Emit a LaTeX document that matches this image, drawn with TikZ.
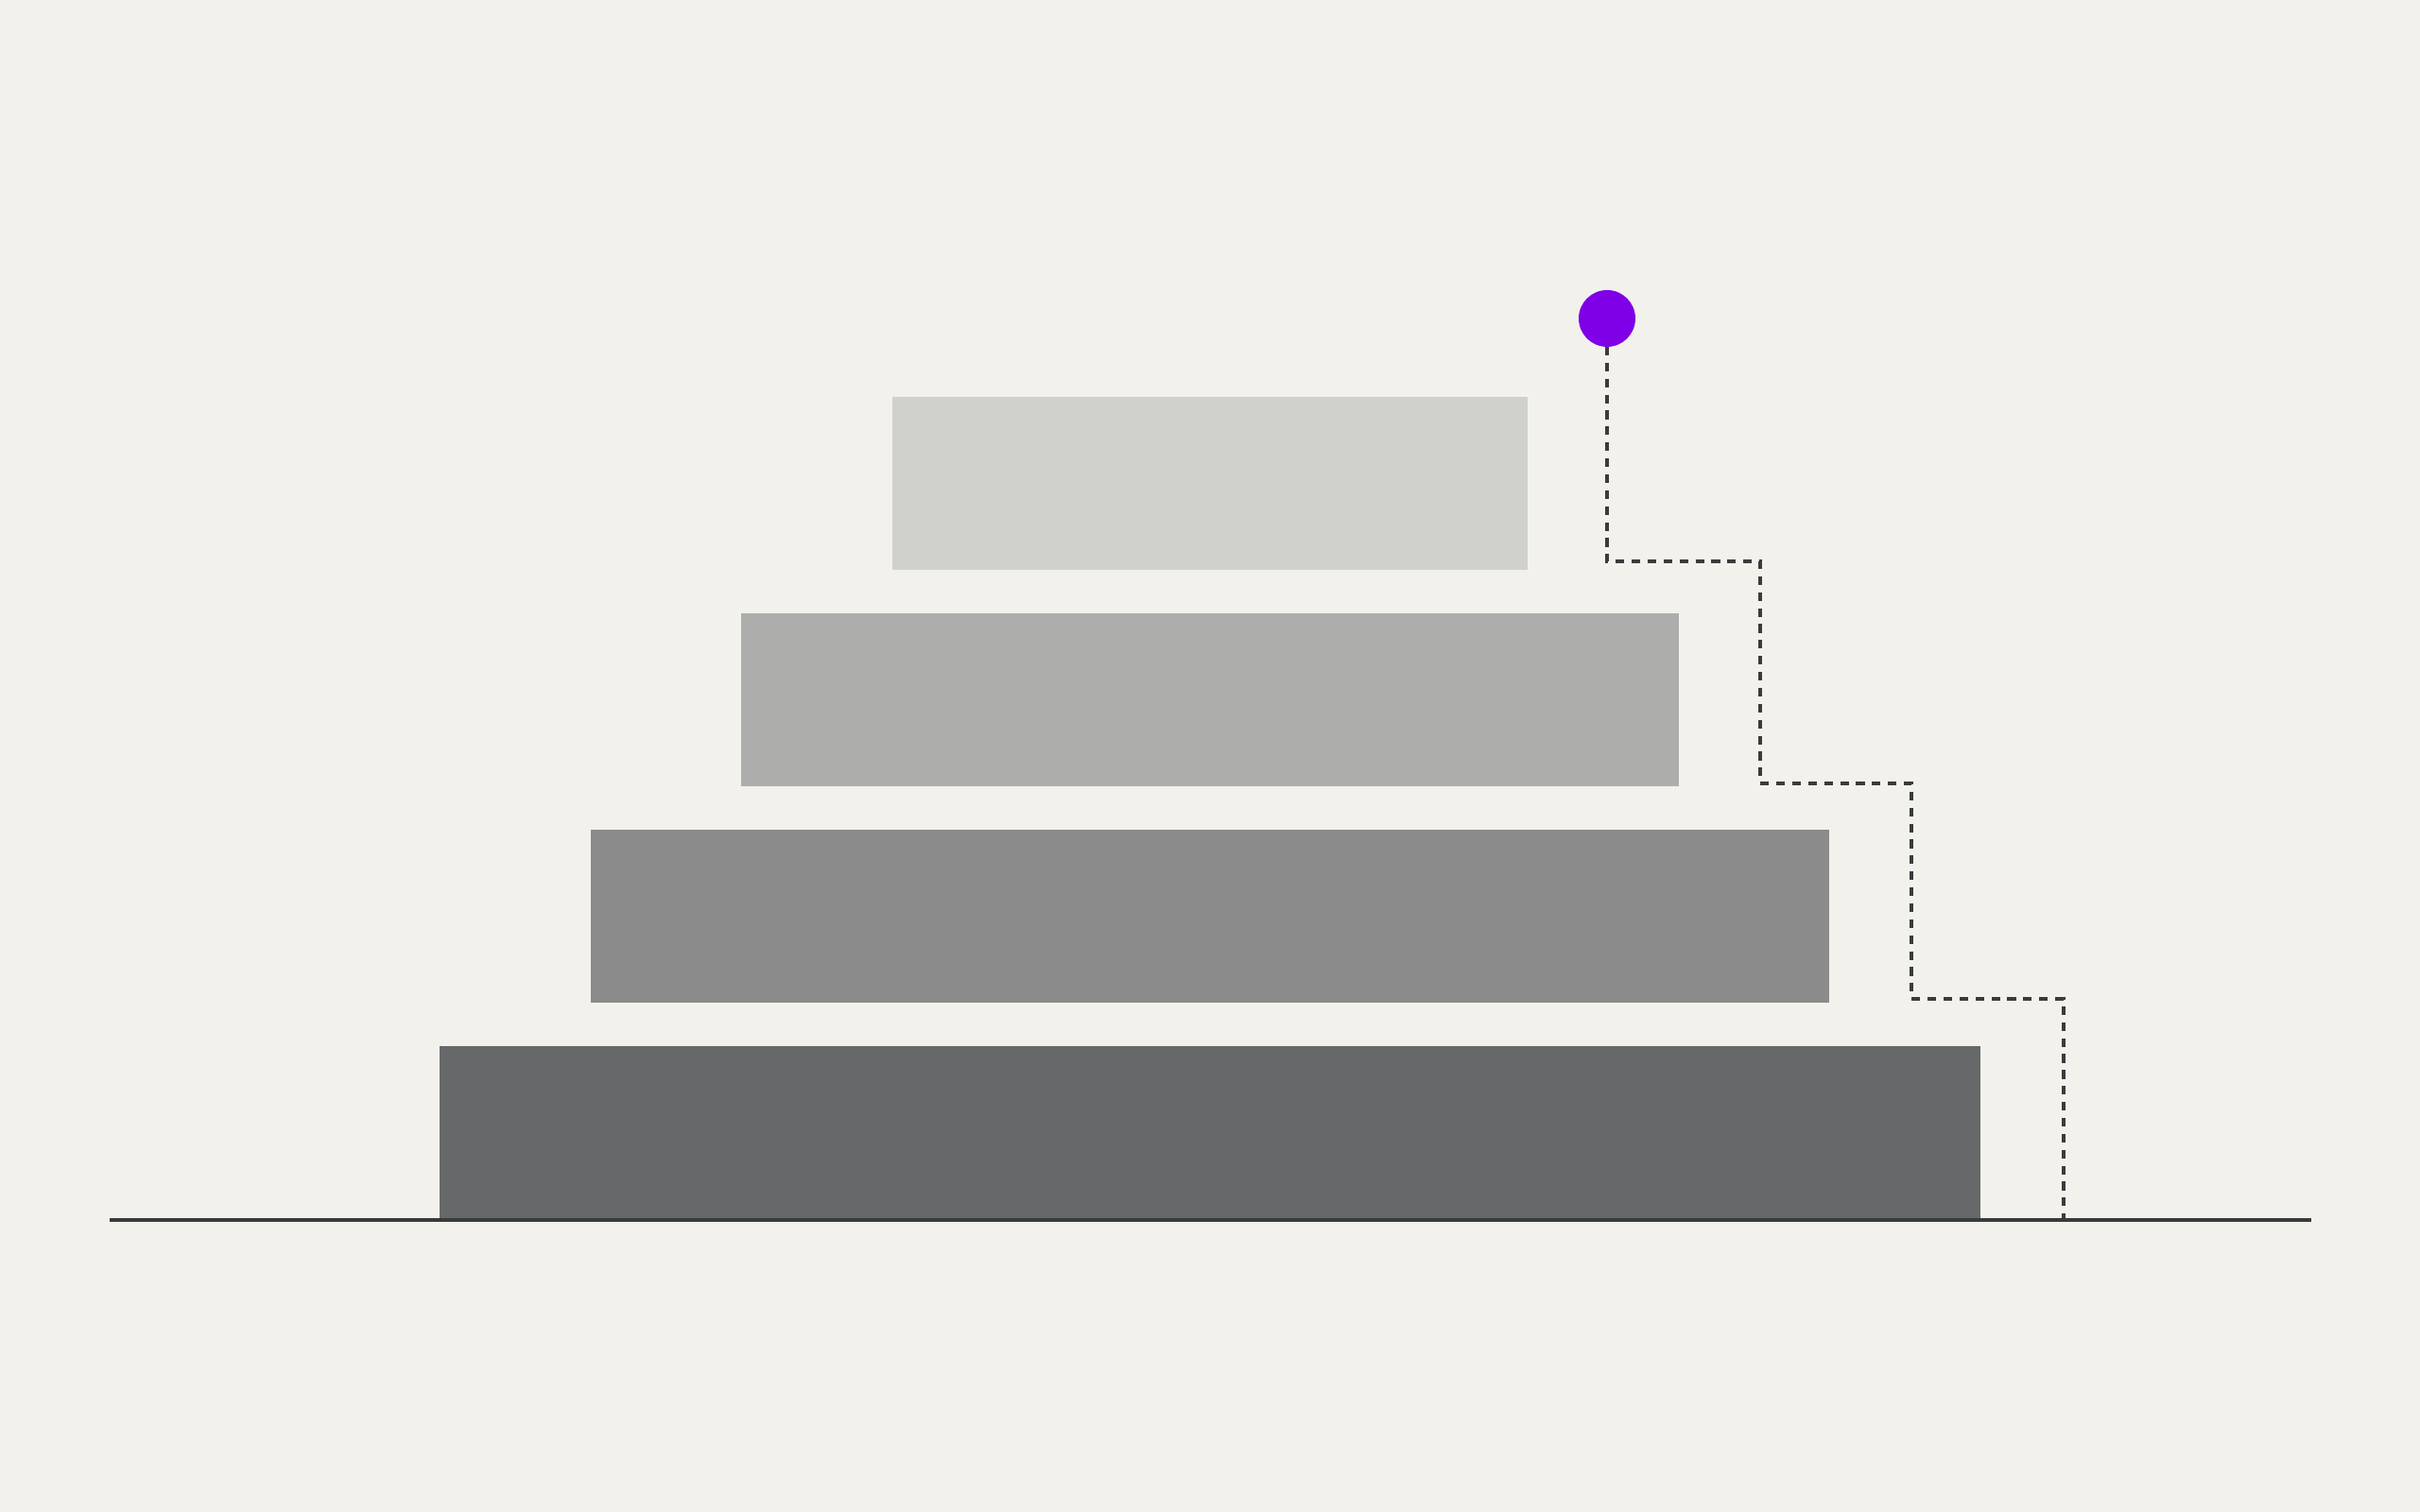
\documentclass[tikz,border=0pt]{standalone}
\usepackage{tikz}
\usetikzlibrary{positioning}

\definecolor{bgcol}{HTML}{F2F1EC}
\definecolor{tierA}{HTML}{676869}
\definecolor{tierB}{HTML}{8A8B8A}
\definecolor{tierC}{HTML}{ADADAB}
\definecolor{tierD}{HTML}{D0D1CC}
\definecolor{pincol}{HTML}{7F00E6}
\definecolor{inkcol}{HTML}{3A3B3B}

\begin{document}
\begin{tikzpicture}[node distance=0.46cm]

  \tikzstyle{tier}=[rectangle,inner sep=0pt,outer sep=0pt,minimum height=1.83cm]
  \tikzstyle{pin dot}=[circle,fill=pincol,inner sep=0pt,outer sep=0pt,minimum size=0.6cm]
  \tikzstyle{stair}=[inkcol,line width=1.3pt,dash pattern=on 2.6pt off 2.2pt]

  \fill[bgcol] (0,0) rectangle (25.6,16);

  \node[tier,fill=tierA,minimum width=16.30cm] (T1) at (12.80,4.01) {};
  \node[tier,fill=tierB,minimum width=13.10cm] (T2) [above=of T1] {};
  \node[tier,fill=tierC,minimum width=9.92cm]  (T3) [above=of T2] {};
  \node[tier,fill=tierD,minimum width=6.72cm]  (T4) [above=of T3] {};

  \node[pin dot] (PIN) at (17.00,12.63) {};

  \coordinate (S1) at (18.62,10.06);
  \coordinate (S2) at (20.22,7.71);
  \coordinate (S3) at (21.83,5.43);
  \coordinate (G)  at (21.83,3.09);

  \coordinate (GL) at (1.16,3.09);
  \coordinate (GR) at (24.45,3.09);

  \draw[stair] (PIN.south) |- (S1) |- (S2) |- (S3) -- (G);
  \draw[inkcol,line width=1.15pt] (GL) -- (GR);
\end{tikzpicture}
\end{document}
